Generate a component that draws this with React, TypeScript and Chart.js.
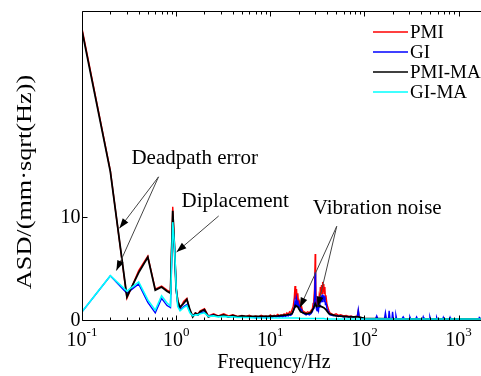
import React, { useEffect, useRef } from "react";
import { Chart, registerables } from "chart.js";

Chart.register(...registerables);

const W = 481;
const H = 376;
const FONT = '"Liberation Serif", "Times New Roman", serif';

// ---- data ----
const seriesNames = ["PMI", "GI", "PMI-MA", "GI-MA"];
const seriesColors = ["#ff0000", "#0000ff", "#000000", "#00ffff"];

const freqLow = [0.1, 0.2, 0.3, 0.4, 0.5, 0.6, 0.7, 0.8, 0.87, 0.92, 0.96, 1.0, 1.04, 1.1, 1.2, 1.3, 1.4, 1.5, 1.6, 1.7, 1.8, 2.0, 2.2, 2.5, 2.8, 3.2, 3.6, 4.0, 4.5, 5.0];
const pmiLow = [28.3, 14.5, 2.1, 4.8, 6.2, 3.0, 3.3, 2.9, 2.7, 11.0, 7.4, 3.2, 2.0, 1.1, 1.8, 2.1, 0.9, 0.4, 0.7, 0.6, 0.9, 1.1, 0.4, 0.6, 0.4, 0.6, 0.4, 0.5, 0.35, 0.45];
const giLow = [0.8, 4.3, 2.6, 3.5, 1.7, 0.7, 2.1, 1.4, 1.2, 9.6, 7.0, 3.0, 1.5, 1.0, 1.3, 1.5, 0.8, 0.4, 0.6, 0.5, 0.7, 0.8, 0.4, 0.5, 0.35, 0.4, 0.3, 0.35, 0.3, 0.3];
const pmiMaLow = [28.1, 14.4, 2.25, 4.6, 6.1, 2.9, 3.2, 2.8, 2.6, 10.6, 7.0, 3.0, 1.8, 1.25, 1.6, 2.0, 1.0, 0.3, 0.65, 0.5, 0.8, 1.0, 0.3, 0.5, 0.35, 0.5, 0.3, 0.45, 0.3, 0.4];
const giMaLow = [0.8, 4.3, 2.8, 3.7, 1.95, 0.95, 2.35, 1.65, 1.35, 9.5, 7.2, 3.2, 1.3, 0.9, 1.2, 1.4, 0.7, 0.4, 0.5, 0.5, 0.6, 0.7, 0.35, 0.4, 0.3, 0.35, 0.3, 0.3, 0.25, 0.25];

const noiseFreq = [
  5.5, 6, 6.5, 7, 7.5, 8, 8.5, 9, 9.5, 10,
  10.5, 11, 11.5, 12, 12.5, 13, 13.5, 14, 14.5, 15,
  15.5, 16, 16.5, 17, 17.5, 18, 18.3, 18.6, 19, 19.3,
  19.6, 20, 20.5, 21, 21.5, 22, 23, 24, 25, 26,
  27, 28, 28.5, 29, 29.5, 30, 30.3, 30.7, 31, 31.5,
  32, 32.5, 33, 33.5, 34, 34.5, 35, 35.5, 36, 36.5,
  37, 37.5, 38, 38.5, 39, 40, 41, 42, 43, 45,
  47, 50, 53, 56, 60, 64, 68, 72, 76, 80,
  84, 86, 88, 92, 100, 115, 131, 135, 139, 163,
  167, 171, 180, 183, 187, 196, 199, 203, 213, 216,
  220, 250, 258, 266, 298, 304, 310, 350, 358, 366,
  415, 421, 428, 490, 496, 503, 578, 585, 593, 680,
  688, 697, 800, 811, 822, 1000, 1300, 1640, 1660, 1730,
];
const pmiNoise = [
  0.35, 0.45, 0.3, 0.4, 0.3, 0.45, 0.35, 0.4, 0.3, 0.5,
  0.35, 0.45, 0.4, 0.55, 0.4, 0.5, 0.45, 0.6, 0.5, 0.7,
  0.55, 0.8, 0.7, 1.0, 1.3, 2.2, 3.3, 2.0, 3.0, 1.8,
  2.6, 1.5, 1.8, 1.1, 1.3, 0.9, 0.8, 0.7, 0.8, 0.7,
  0.9, 1.1, 1.6, 2.0, 3.0, 6.4, 4.0, 2.0, 1.4, 1.2,
  1.6, 1.3, 2.2, 1.8, 3.2, 2.4, 3.4, 2.6, 3.7, 2.8,
  3.5, 2.6, 3.2, 2.0, 2.4, 1.5, 1.2, 0.9, 0.7, 0.6,
  0.5, 0.6, 0.45, 0.5, 0.4, 0.45, 0.35, 0.4, 0.3, 0.35,
  0.4, 0.9, 0.3, 0.2, 0.15, 0.12, 0.1, 0.15, 0.1, 0.1,
  0.15, 0.1, 0.1, 0.2, 0.1, 0.1, 0.2, 0.1, 0.1, 0.15,
  0.1, 0.1, 0.12, 0.1, 0.1, 0.12, 0.1, 0.1, 0.12, 0.1,
  0.1, 0.12, 0.1, 0.1, 0.12, 0.1, 0.1, 0.12, 0.1, 0.1,
  0.12, 0.1, 0.1, 0.12, 0.1, 0.1, 0.1, 0.1, 0.1, 0.1,
];
const giNoise = [
  0.3, 0.25, 0.3, 0.2, 0.3, 0.25, 0.3, 0.2, 0.3, 0.3,
  0.25, 0.35, 0.3, 0.35, 0.3, 0.4, 0.3, 0.4, 0.35, 0.45,
  0.4, 0.5, 0.45, 0.6, 0.8, 1.2, 1.8, 1.2, 2.0, 1.4,
  1.9, 1.2, 1.4, 0.9, 1.0, 0.7, 0.6, 0.5, 0.6, 0.5,
  0.6, 0.8, 1.1, 1.3, 2.0, 4.6, 2.6, 1.3, 1.0, 0.9,
  1.1, 0.9, 1.6, 1.2, 2.3, 1.7, 2.4, 1.8, 2.5, 2.0,
  2.4, 1.8, 2.3, 1.5, 1.7, 1.1, 0.9, 0.7, 0.5, 0.45,
  0.4, 0.45, 0.35, 0.4, 0.3, 0.35, 0.3, 0.35, 0.3, 0.3,
  0.35, 1.0, 0.3, 0.15, 0.12, 0.1, 0.1, 0.4, 0.1, 0.1,
  0.7, 0.1, 0.1, 0.9, 0.1, 0.1, 0.8, 0.1, 0.1, 0.45,
  0.1, 0.1, 0.3, 0.1, 0.1, 0.3, 0.1, 0.1, 0.3, 0.1,
  0.1, 0.3, 0.1, 0.1, 0.3, 0.1, 0.1, 0.25, 0.1, 0.1,
  0.25, 0.1, 0.1, 0.25, 0.1, 0.1, 0.1, 0.1, 0.25, 0.1,
];

const maFreq = [5.5, 7, 9, 12, 15, 17, 18.5, 19.5, 21, 24, 27, 29, 30, 31, 33, 35, 37, 39, 42, 50, 70, 86, 100, 200, 500, 1000, 1730];
const pmiMaNoise = [0.35, 0.35, 0.35, 0.4, 0.5, 0.6, 1.4, 1.3, 0.8, 0.6, 0.7, 1.2, 1.6, 1.3, 1.4, 1.3, 1.2, 1.0, 0.6, 0.4, 0.3, 0.3, 0.15, 0.1, 0.1, 0.1, 0.1];
const giMaNoise = [0.25, 0.2, 0.2, 0.2, 0.2, 0.2, 0.2, 0.2, 0.15, 0.15, 0.15, 0.15, 0.15, 0.15, 0.15, 0.15, 0.15, 0.1, 0.1, 0.1, 0.1, 0.1, 0.1, 0.1, 0.1, 0.1, 0.1];

const xTickExponents = [-1, 0, 1, 2, 3];
const yTickValues = [0, 10];
const X_MIN = 0.1;
const X_MAX = 1730;
const Y_MIN = 0;
const Y_MAX = 30;

const xTitle = "Frequency/Hz";
const yTitle = "ASD/(mm\u00B7sqrt(Hz))";

// annotations: text anchors and arrows in data coordinates (freq, value)
const annotationTexts = [
  { text: "Deadpath error", f: 0.335, v: 15.1 },
  { text: "Diplacement", f: 1.14, v: 11.0 },
  { text: "Vibration noise", f: 28.3, v: 10.3 },
];
const annotationArrows = [
  { from: [0.65, 13.9], to: [0.25, 8.9] },
  { from: [0.65, 13.9], to: [0.232, 4.8] },
  { from: [2.83, 10.1], to: [1.01, 6.6] },
  { from: [50.8, 9.1], to: [20.6, 1.2] },
  { from: [50.8, 9.1], to: [31.9, 1.3] },
];

const pts = (fs: number[], vs: number[]) => fs.map((f, i) => ({ x: f, y: vs[i] }));

function drawArrow(ctx: CanvasRenderingContext2D, x1: number, y1: number, x2: number, y2: number) {
  ctx.save();
  ctx.strokeStyle = "#444";
  ctx.lineWidth = 1;
  ctx.beginPath();
  ctx.moveTo(x1, y1);
  ctx.lineTo(x2, y2);
  ctx.stroke();
  const a = Math.atan2(y2 - y1, x2 - x1);
  const L = 10;
  const w = 3.5;
  const bx = x2 - L * Math.cos(a);
  const by = y2 - L * Math.sin(a);
  ctx.fillStyle = "#000";
  ctx.beginPath();
  ctx.moveTo(x2, y2);
  ctx.lineTo(bx + w * Math.sin(a), by - w * Math.cos(a));
  ctx.lineTo(bx - w * Math.sin(a), by + w * Math.cos(a));
  ctx.closePath();
  ctx.fill();
  ctx.restore();
}

const decorPlugin = {
  id: "decor",
  afterDatasetsDraw(chart: any) {
    const ctx: CanvasRenderingContext2D = chart.ctx;
    const ca = chart.chartArea;
    const xs = chart.scales.x;
    const ys = chart.scales.y;
    const L = Math.round(ca.left) + 0.5;
    const B = Math.round(ca.bottom) + 0.5;
    const T = Math.round(ca.top) + 0.5;
    const R = ca.right;
    ctx.save();
    ctx.strokeStyle = "#000";
    ctx.lineWidth = 1;
    ctx.beginPath();
    ctx.moveTo(R, T);
    ctx.lineTo(L, T);
    ctx.lineTo(L, B);
    ctx.lineTo(R, B);
    ctx.stroke();

    // x ticks (inward, bottom and top)
    ctx.beginPath();
    for (const e of xTickExponents) {
      for (let k = 1; k <= 9; k++) {
        const v = k * Math.pow(10, e);
        if (v < X_MIN || v > X_MAX) continue;
        const px = Math.round(xs.getPixelForValue(v)) + 0.5;
        const len = k === 1 ? 5 : 3;
        ctx.moveTo(px, B);
        ctx.lineTo(px, B - len);
        ctx.moveTo(px, T);
        ctx.lineTo(px, T + len);
      }
    }
    for (const v of yTickValues) {
      const py = Math.round(ys.getPixelForValue(v)) + 0.5;
      ctx.moveTo(L, py);
      ctx.lineTo(L + 5, py);
    }
    ctx.stroke();

    // x tick labels with superscript exponent
    ctx.fillStyle = "#000";
    ctx.textBaseline = "alphabetic";
    ctx.textAlign = "left";
    for (const e of xTickExponents) {
      const px = xs.getPixelForValue(Math.pow(10, e));
      const base = "10";
      const ex = String(e);
      ctx.font = `20px ${FONT}`;
      const wb = ctx.measureText(base).width;
      ctx.font = `13px ${FONT}`;
      const we = ctx.measureText(ex).width;
      const x0 = px - (wb + we) / 2;
      ctx.font = `20px ${FONT}`;
      ctx.fillText(base, x0, 346);
      ctx.font = `13px ${FONT}`;
      ctx.fillText(ex, x0 + wb, 336);
    }

    // y tick labels
    ctx.font = `20px ${FONT}`;
    ctx.textAlign = "right";
    ctx.textBaseline = "middle";
    for (const v of yTickValues) {
      ctx.fillText(String(v), L - 2, ys.getPixelForValue(v) + 1);
    }

    // axis titles
    ctx.textAlign = "center";
    ctx.textBaseline = "alphabetic";
    ctx.fillText(xTitle, 274, 368);
    ctx.save();
    ctx.translate(25, 182);
    ctx.rotate(-Math.PI / 2);
    ctx.scale(1.25, 1);
    ctx.textBaseline = "middle";
    ctx.font = `21px ${FONT}`;
    ctx.fillText(yTitle, 0, 0);
    ctx.restore();

    // annotations
    ctx.font = `21px ${FONT}`;
    ctx.textAlign = "left";
    ctx.textBaseline = "alphabetic";
    for (const a of annotationTexts) {
      ctx.fillText(a.text, xs.getPixelForValue(a.f), ys.getPixelForValue(a.v));
    }
    for (const a of annotationArrows) {
      drawArrow(
        ctx,
        xs.getPixelForValue(a.from[0]),
        ys.getPixelForValue(a.from[1]),
        xs.getPixelForValue(a.to[0]),
        ys.getPixelForValue(a.to[1])
      );
    }

    // legend
    ctx.font = `19px ${FONT}`;
    ctx.textBaseline = "middle";
    ctx.textAlign = "left";
    seriesNames.forEach((name, i) => {
      const y = 32 + i * 20;
      ctx.strokeStyle = seriesColors[i];
      ctx.lineWidth = 1.5;
      ctx.beginPath();
      ctx.moveTo(373, y);
      ctx.lineTo(408, y);
      ctx.stroke();
      ctx.fillStyle = "#000";
      ctx.fillText(name, 410, y + 1);
    });
    ctx.restore();
  },
};

export default function App() {
  const ref = useRef<HTMLCanvasElement>(null);
  useEffect(() => {
    if (!ref.current) return;
    const lows = [pmiLow, giLow, pmiMaLow, giMaLow];
    const highs = [
      pts(noiseFreq, pmiNoise),
      pts(noiseFreq, giNoise),
      pts(maFreq, pmiMaNoise),
      pts(maFreq, giMaNoise),
    ];
    const widths = [1.4, 1.4, 1.8, 1.6];
    const orders = [3, 2, 1, 0];
    const chart = new Chart(ref.current, {
      type: "line",
      data: {
        datasets: seriesNames.map((name, i) => ({
          label: name,
          data: [...pts(freqLow, lows[i]), ...highs[i]],
          borderColor: seriesColors[i],
          backgroundColor: seriesColors[i],
          borderWidth: widths[i],
          pointRadius: 0,
          tension: 0,
          fill: false,
          order: orders[i],
        })),
      },
      options: {
        animation: false,
        responsive: false,
        events: [],
        layout: { padding: { top: 11, right: 0, left: 0, bottom: 0 } },
        plugins: { legend: { display: false }, tooltip: { enabled: false } },
        scales: {
          x: {
            type: "logarithmic",
            min: X_MIN,
            max: X_MAX,
            ticks: { display: false },
            grid: { display: false },
            border: { display: false },
            afterFit: (s: any) => {
              s.height = 56;
            },
          },
          y: {
            type: "linear",
            min: Y_MIN,
            max: Y_MAX,
            ticks: { display: false },
            grid: { display: false },
            border: { display: false },
            afterFit: (s: any) => {
              s.width = 82;
            },
          },
        },
      } as any,
      plugins: [decorPlugin],
    });
    return () => chart.destroy();
  }, []);
  return (
    <div style={{ position: "fixed", left: 0, top: 0, width: W, height: H, background: "#fff" }}>
      <canvas ref={ref} width={W} height={H} style={{ display: "block", width: W, height: H }} />
    </div>
  );
}
